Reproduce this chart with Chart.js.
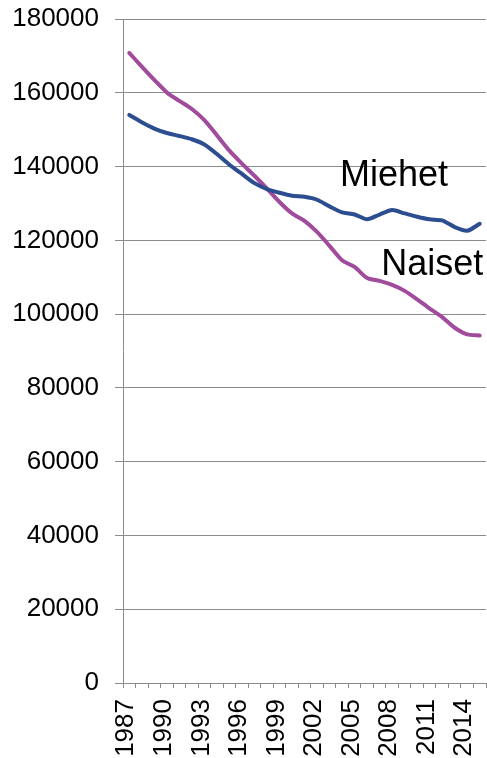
<!DOCTYPE html>
<html>
<head>
<meta charset="utf-8">
<script src="https://cdn.jsdelivr.net/npm/chart.js@4/dist/chart.umd.min.js"></script>
<style>
  html, body { margin: 0; padding: 0; background: #fff; }
  canvas { display: block; }
</style>
</head>
<body>
<canvas id="grafico" width="487" height="758"></canvas>
<script>
// datos del gráfico
var vuodet = ["1987", "1988", "1989", "1990", "1991", "1992", "1993", "1994", "1995", "1996",
  "1997", "1998", "1999", "2000", "2001", "2002", "2003", "2004", "2005", "2006",
  "2007", "2008", "2009", "2010", "2011", "2012", "2013", "2014", "2015"];

var miehet = [154000, 152000, 150300, 149100, 148300, 147400, 146000, 143400, 140500, 138000,
  135500, 133900, 132900, 132100, 131800, 131000, 129200, 127600, 127000, 125700,
  127000, 128200, 127300, 126400, 125700, 125400, 123600, 122600, 124500];

var naiset = [170800, 167100, 163500, 160100, 157800, 155600, 152600, 148500, 144300, 140800,
  137500, 134000, 130400, 127300, 125300, 122300, 118500, 114600, 112800, 109800,
  109000, 107900, 106300, 104000, 101500, 99200, 96300, 94500, 94200];

var yTicks = [0, 20000, 40000, 60000, 80000, 100000, 120000, 140000, 160000, 180000];

// nimet viivojen vieressä (kategoria-indeksi ja arvo)
var nimet = ["Miehet", "Naiset"];
var nimiX = [21.15, 24.2];
var nimiY = [134750, 110500];

var harmaa = "#8c8c8c";
var fontti = "'Liberation Sans', Arial, sans-serif";

// piirtää sarjojen nimet kaavioon
var nimiPlugin = {
  id: "nimet",
  afterDatasetsDraw: function (chart) {
    var ctx = chart.ctx;
    ctx.save();
    ctx.fillStyle = "#000";
    ctx.font = "36px " + fontti;
    ctx.textAlign = "center";
    ctx.textBaseline = "alphabetic";
    for (var i = 0; i < nimet.length; i++) {
      var x = chart.scales.x.getPixelForValue(nimiX[i]);
      var y = chart.scales.y.getPixelForValue(nimiY[i]);
      ctx.fillText(nimet[i], x, y);
    }
    ctx.restore();
  }
};

var config = {
  type: "line",
  data: {
    labels: vuodet,
    datasets: [{
      label: "Miehet",
      data: miehet,
      borderColor: "#2c4d8f",
      borderWidth: 4,
      pointRadius: 0,
      tension: 0.25,
      borderCapStyle: "round",
      borderJoinStyle: "round",
      fill: false
    }, {
      label: "Naiset",
      data: naiset,
      borderColor: "#a04b9b",
      borderWidth: 4,
      pointRadius: 0,
      tension: 0.25,
      borderCapStyle: "round",
      borderJoinStyle: "round",
      fill: false
    }]
  },
  options: {
    responsive: false,
    animation: false,
    devicePixelRatio: 1,
    layout: {
      padding: { top: 19, right: 1, left: 0, bottom: 0 }
    },
    plugins: {
      legend: { display: false },
      tooltip: { enabled: false }
    },
    scales: {
      x: {
        offset: true,
        grid: {
          offset: true,
          drawOnChartArea: false,
          drawTicks: true,
          tickLength: 5,
          color: harmaa
        },
        border: { color: harmaa, width: 1 },
        ticks: {
          autoSkip: false,
          minRotation: 90,
          maxRotation: 90,
          padding: 11,
          labelOffset: -3,
          color: "#000",
          font: { family: fontti, size: 26 },
          callback: function (value, index) {
            return index % 3 === 0 ? vuodet[index] : "";
          }
        },
        afterFit: function (scale) {
          scale.height = 75;
          scale.paddingLeft = 0;
          scale.paddingRight = 0;
        }
      },
      y: {
        min: 0,
        max: 180000,
        afterBuildTicks: function (scale) {
          scale.ticks = yTicks.map(function (v) { return { value: v }; });
        },
        grid: {
          color: harmaa,
          drawTicks: true,
          tickLength: 8
        },
        border: { color: harmaa, width: 1 },
        ticks: {
          padding: 16,
          color: "#000",
          font: { family: fontti, size: 26 },
          callback: function (value) {
            return String(value);
          }
        },
        afterFit: function (scale) {
          scale.width = 123;
          scale.paddingTop = 0;
          scale.paddingBottom = 0;
        }
      }
    }
  },
  plugins: [nimiPlugin]
};

new Chart(document.getElementById("grafico").getContext("2d"), config);
</script>
</body>
</html>
